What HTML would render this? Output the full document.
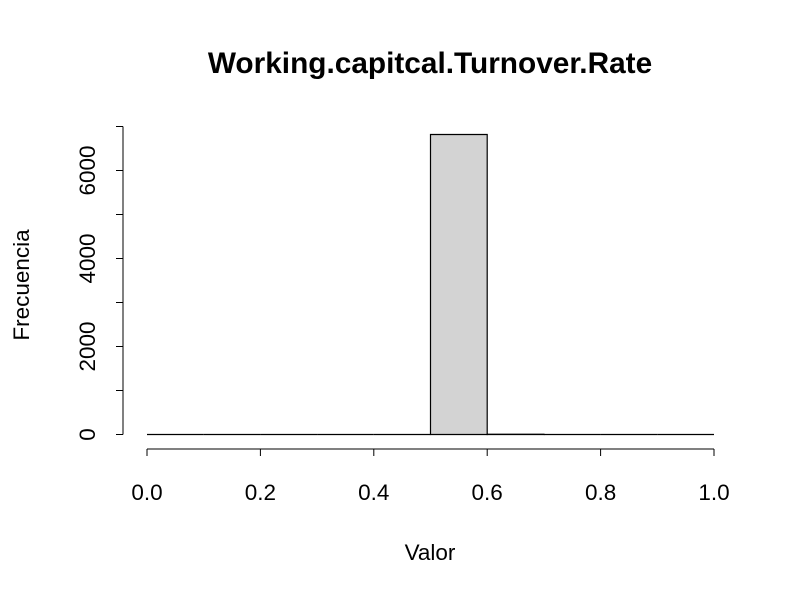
<!DOCTYPE html>
<html><head><meta charset="utf-8"><style>
body{margin:0;background:#fff}
svg text{font-family:"Liberation Sans",sans-serif}
</style></head><body>
<svg id="chart" width="800" height="600" xmlns="http://www.w3.org/2000/svg">
<text x="430" y="73" text-anchor="middle" style="font-size:29.8px;font-weight:bold">Working.capitcal.Turnover.Rate</text>
<text x="430" y="560" text-anchor="middle" style="font-size:22.5px">Valor</text>
<text transform="translate(29,285) rotate(-90)" text-anchor="middle" style="font-size:22.5px">Frecuencia</text>
<g id="bars"></g><g id="xaxis"></g><g id="yaxis"></g>
</svg>
<script>
const binEdges=[0,0.1,0.2,0.3,0.4,0.5,0.6,0.7,0.8,0.9,1.0];
const counts=[0,0,0,0,0,6818,5,0,0,0];
const xTicks=[0,0.2,0.4,0.6,0.8,1.0];
const xTickLabels=["0.0","0.2","0.4","0.6","0.8","1.0"];
const yTicks=[0,1000,2000,3000,4000,5000,6000,7000];
const yTickLabels=["0","","2000","","4000","","6000",""];
const NS="http://www.w3.org/2000/svg";
const xs=v=>147+v*567;
const ys=v=>434.5-v*0.044;
function mk(t,a,p){const e=document.createElementNS(NS,t);for(const k in a)e.setAttribute(k,a[k]);p.appendChild(e);return e;}
const bars=document.getElementById('bars');
counts.forEach((c,i)=>{
  const x0=xs(binEdges[i]),x1=xs(binEdges[i+1]);
  const y0=ys(0),y1=ys(c);
  const r=mk('path',{d:`M${x0},${y0}L${x0},${y1}L${x1},${y1}L${x1},${y0}Z`,fill:'#d3d3d3',stroke:'#000','stroke-width':1.2},bars);
  
  
});
const xa=document.getElementById('xaxis');


mk('line',{x1:xs(xTicks[0]),x2:xs(xTicks[xTicks.length-1]),y1:449,y2:449,stroke:'#000'},xa);
xTicks.forEach((t,i)=>{
  mk('line',{x1:xs(t),x2:xs(t),y1:449,y2:456,stroke:'#000'},xa);
  const tx=mk('text',{x:xs(t),y:500,'text-anchor':'middle',style:'font-size:22.5px'},xa);
  tx.textContent=xTickLabels[i];
  
  
});
const ya=document.getElementById('yaxis');


mk('line',{x1:123,x2:123,y1:ys(yTicks[0]),y2:ys(yTicks[yTicks.length-1]),stroke:'#000'},ya);
yTicks.forEach((t,i)=>{
  mk('line',{x1:116,x2:123,y1:ys(t),y2:ys(t),stroke:'#000'},ya);
  if(yTickLabels[i]){
    const tx=mk('text',{transform:`translate(95,${ys(t)}) rotate(-90)`,'text-anchor':'middle',style:'font-size:22.5px'},ya);
    tx.textContent=yTickLabels[i];
    
    
  }
});
</script>
</body></html>
